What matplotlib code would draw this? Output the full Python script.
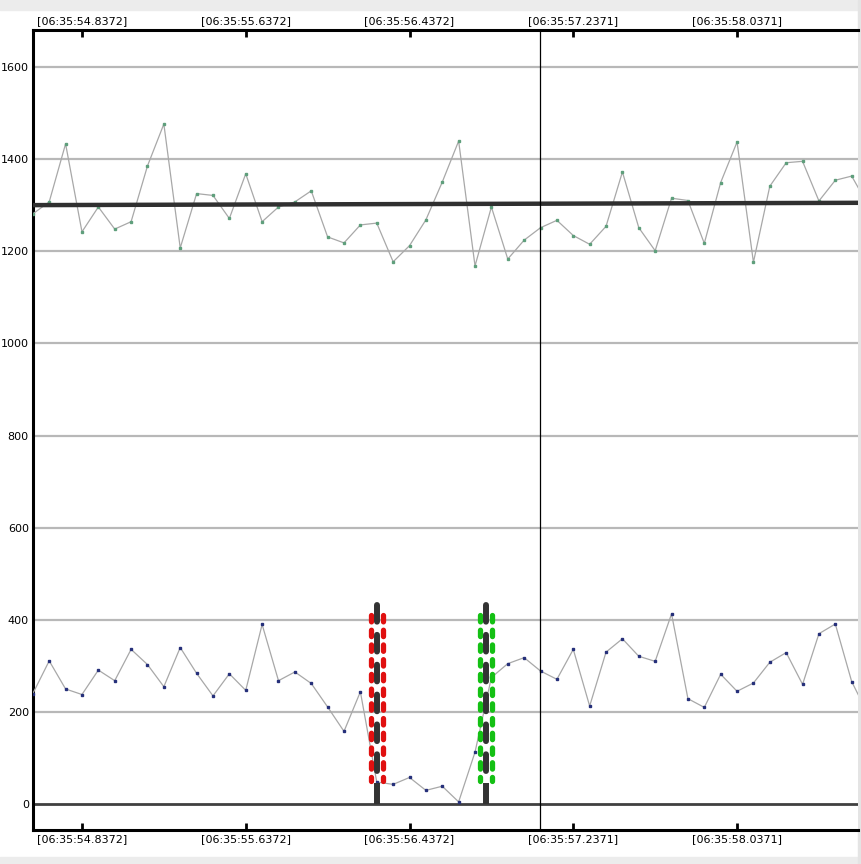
import matplotlib
matplotlib.use("Agg")
import matplotlib.pyplot as plt
import matplotlib.transforms as mtransforms
from matplotlib.patches import Rectangle

# sampling: one point every 0.08 s (seconds within 06:35)
t_first = 54.5972
t_step = 0.08

upper_vals = [1281, 1307, 1433, 1242, 1296, 1248, 1264, 1385, 1476, 1207,
              1325, 1321, 1271, 1368, 1264, 1296, 1307, 1331, 1231, 1218,
              1257, 1261, 1177, 1212, 1268, 1350, 1439, 1168, 1296, 1183,
              1224, 1251, 1267, 1234, 1215, 1254, 1372, 1251, 1201, 1315,
              1310, 1217, 1349, 1437, 1176, 1341, 1392, 1395, 1309, 1354,
              1363, 1300]

lower_vals = [240, 311, 250, 238, 291, 268, 336, 303, 255, 340,
              284, 235, 283, 247, 390, 268, 287, 262, 211, 158,
              244, 48, 43, 58, 30, 39, 5, 113, 275, 305,
              318, 289, 271, 336, 213, 330, 359, 321, 310, 413,
              229, 210, 282, 245, 263, 308, 329, 260, 370, 391,
              266, 195]

# trend line of the upper series (start, end)
trend_vals = [1300, 1305]

# event markers (time, colour) and cursor time
event_times = [56.2772, 56.8110]
event_colors = ["#e01010", "#14c014"]
event_top = 438
event_dash_range = [46, 415]
cursor_time = 57.075

tick_times = [54.8372, 55.6372, 56.4372, 57.2371, 58.0371]
tick_labels = ["[06:35:54.8372]", "[06:35:55.6372]", "[06:35:56.4372]",
               "[06:35:57.2371]", "[06:35:58.0371]"]
y_ticks = [0, 200, 400, 600, 800, 1000, 1200, 1400, 1600]

x_min, x_max = 54.598, 58.628
y_min, y_max = -56, 1680

plt.rcParams["lines.scale_dashes"] = False

fig = plt.figure(figsize=(8.61, 8.64), dpi=100, facecolor="white")
# light grey window strips
fig.patches.append(Rectangle((0, 1 - 10 / 864), 1, 10 / 864, transform=fig.transFigure,
                             color="#ececec", zorder=-5))
fig.patches.append(Rectangle((0, 0), 1, 7 / 864, transform=fig.transFigure,
                             color="#ececec", zorder=-5))
fig.patches.append(Rectangle((858 / 861, 0), 3 / 861, 1, transform=fig.transFigure,
                             color="#e4e4e4", zorder=-5))

ax = fig.add_axes([33 / 861, 34 / 864, 825 / 861, 800 / 864])
ax.set_xlim(x_min, x_max)
ax.set_ylim(y_min, y_max)

times = [t_first + t_step * i for i in range(len(upper_vals))]

# horizontal grid
for v in y_ticks:
    if v == 0:
        ax.axhline(v, color="#404040", lw=2.0, zorder=1)
    else:
        ax.axhline(v, color="#b8b8b8", lw=1.6, zorder=1)

# series
ax.plot(times, upper_vals, color="#a8a8a8", lw=0.9, zorder=3)
ax.plot(times, upper_vals, ls="none", marker="s", ms=1.6, color="#5f9f7c", zorder=4)
ax.plot(times, lower_vals, color="#a8a8a8", lw=0.9, zorder=3)
ax.plot(times, lower_vals, ls="none", marker="s", ms=1.6, color="#26307a", zorder=4)

# trend line
ax.plot([x_min, x_max], trend_vals, color="#303030", lw=3.2, zorder=5, solid_capstyle="butt")

# cursor
ax.axvline(cursor_time, color="black", lw=0.9, zorder=6)

# event markers
for et, col in zip(event_times, event_colors):
    ax.plot([et, et], [0, event_dash_range[0]], color="#333333", lw=4.3,
            solid_capstyle="butt", zorder=7)
    ax.plot([et, et], [event_top - 6, event_dash_range[0]], color="#333333", lw=4.3,
            dashes=(12.0, 9.5), dash_capstyle="round", zorder=7)
    for dx in (-6, 6):
        tr = mtransforms.offset_copy(ax.transData, fig=fig, x=dx, y=0, units="dots")
        ax.plot([et, et], [event_dash_range[1] - 5, event_dash_range[0] + 5], color=col,
                lw=3.8, dashes=(4.6, 6.0), dash_capstyle="round", transform=tr, zorder=6)

# axes styling
for side in ("left", "top", "bottom"):
    ax.spines[side].set_linewidth(2.2)
    ax.spines[side].set_color("black")
ax.spines["right"].set_visible(False)

ax.set_yticks(y_ticks)
ax.set_yticklabels([str(v) for v in y_ticks])
ax.tick_params(axis="y", length=0, pad=3, labelsize=8)

ax.set_xticks(tick_times)
ax.set_xticklabels(tick_labels)
ax.tick_params(axis="x", direction="in", length=5, width=2, top=True, bottom=True,
               labeltop=True, labelbottom=True, labelsize=8, pad=3)

fig.savefig("out.png", dpi=100, facecolor=fig.get_facecolor())
